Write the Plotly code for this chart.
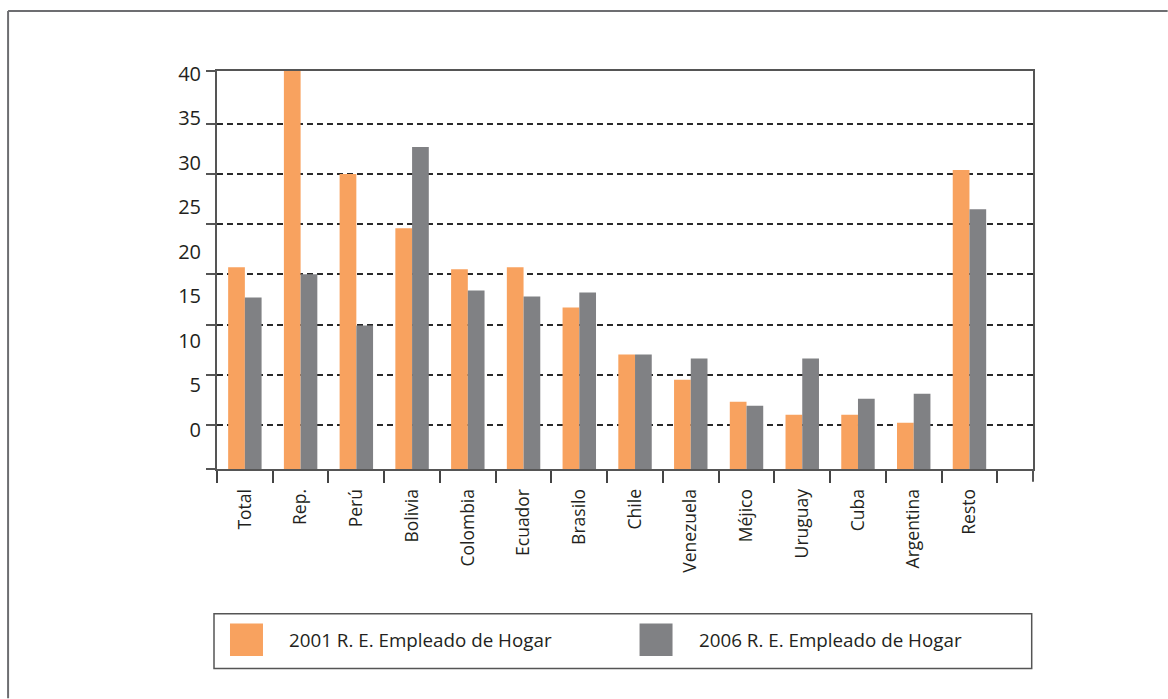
import plotly.graph_objects as go

categories = ["Total", "Rep.", "Perú", "Bolivia", "Colombia", "Ecuador", "Brasilo",
              "Chile", "Venezuela", "Méjico", "Uruguay", "Cuba", "Argentina", "Resto"]
values_2001 = [20.7, 40.3, 30.0, 24.6, 20.5, 20.7, 16.7, 12.0, 9.5, 7.3, 6.0, 6.0, 5.2, 30.4]
values_2006 = [17.7, 20.0, 14.9, 32.7, 18.4, 17.8, 18.2, 12.0, 11.6, 6.9, 11.6, 7.6, 8.1, 26.5]
series_names = ["2001 R. E. Empleado de Hogar", "2006 R. E. Empleado de Hogar"]
colors = ["#F8A25F", "#808184"]

tick_labels = ["0", "5", "10", "15", "20", "25", "30", "35", "40"]
grid_values = [5, 10, 15, 20, 25, 30, 35]

W, H = 1168, 699
L, R, T, B = 217, 134.7, 70.7, 229.7
PW, PH = W - L - R, H - T - B
Y_RANGE = [0.59, 40.28]

def px(x):
    return (x - L) / PW

def py(y):
    return (H - B - y) / PH

# tick label positions (labels are offset from the gridlines in the original)
label_pos = [40 - 0.888 * (40 - float(t)) for t in tick_labels]

fig = go.Figure()
for name, vals, col in zip(series_names, [values_2001, values_2006], colors):
    fig.add_trace(go.Bar(x=categories, y=vals, name=name, marker_color=col,
                         marker_line_width=0, showlegend=False))
fig.add_trace(go.Scatter(x=[categories[0]], y=[None], yaxis="y2", showlegend=False,
                         hoverinfo="skip", mode="markers"))

axis_col = "#555555"
fig.update_layout(
    width=W, height=H,
    margin=dict(l=L, r=R, t=T, b=B, pad=0),
    paper_bgcolor="white", plot_bgcolor="white",
    barmode="group", bargap=0.4, bargroupgap=0,
    font=dict(family="Open Sans, sans-serif", color="#231F20"),
    xaxis=dict(type="category", range=[-0.5, 14.14], tickson="boundaries",
               ticks="outside", ticklen=12, tickwidth=1.5, tickcolor="#444444",
               tickangle=-90, tickfont=dict(size=17.5, color="#231F20"),
               showline=True, linecolor=axis_col, linewidth=2, mirror=True,
               showgrid=False, ticklabelstandoff=11),
    yaxis=dict(range=Y_RANGE, tickmode="array",
               tickvals=[Y_RANGE[0]] + grid_values + [Y_RANGE[1]],
               showticklabels=False, ticks="outside", ticklen=9, tickwidth=1.5,
               tickcolor=axis_col, showgrid=True, gridcolor="#2A2A2A", gridwidth=1.5,
               griddash="6px,4px", showline=True, linecolor=axis_col, linewidth=2,
               mirror=True, zeroline=False),
    yaxis2=dict(range=Y_RANGE, overlaying="y", side="left", anchor="x",
                tickmode="array", tickvals=label_pos, ticktext=tick_labels,
                ticks="", showgrid=False, showline=False, zeroline=False,
                tickfont=dict(size=20, color="#231F20"), ticklabelstandoff=15),
)

shapes = []
# extension of right border below the axis
shapes.append(dict(type="line", xref="paper", yref="paper", x0=1, x1=1,
                   y0=py(482), y1=0, line=dict(color=axis_col, width=2)))
# outer frame (top and left)
shapes.append(dict(type="line", xref="paper", yref="paper", x0=px(8), x1=px(W),
                   y0=py(10.7), y1=py(10.7), line=dict(color="#6D6E71", width=2)))
shapes.append(dict(type="line", xref="paper", yref="paper", x0=px(8), x1=px(8),
                   y0=py(10.7), y1=py(H), line=dict(color="#6D6E71", width=2)))
# legend box
shapes.append(dict(type="rect", xref="paper", yref="paper", x0=px(214), x1=px(1032),
                   y0=py(614.3), y1=py(669), line=dict(color="#555555", width=1.5),
                   fillcolor="white"))
legend_sq = [(230, 263), (639.7, 672.7)]
legend_tx = [287.3, 696.8]
annotations = []
for (x0, x1), tx, col, name in zip(legend_sq, legend_tx, colors, series_names):
    shapes.append(dict(type="rect", xref="paper", yref="paper", x0=px(x0), x1=px(x1),
                       y0=py(624), y1=py(656.7), line=dict(width=0), fillcolor=col))
    annotations.append(dict(xref="paper", yref="paper", x=px(tx), y=py(640.5),
                            xanchor="left", yanchor="middle", text=name,
                            showarrow=False, font=dict(size=18.8, color="#231F20")))
fig.update_layout(shapes=shapes, annotations=annotations)

fig.write_html("out.html", config={"displayModeBar": False},
               post_script="document.body.style.margin='0';")
